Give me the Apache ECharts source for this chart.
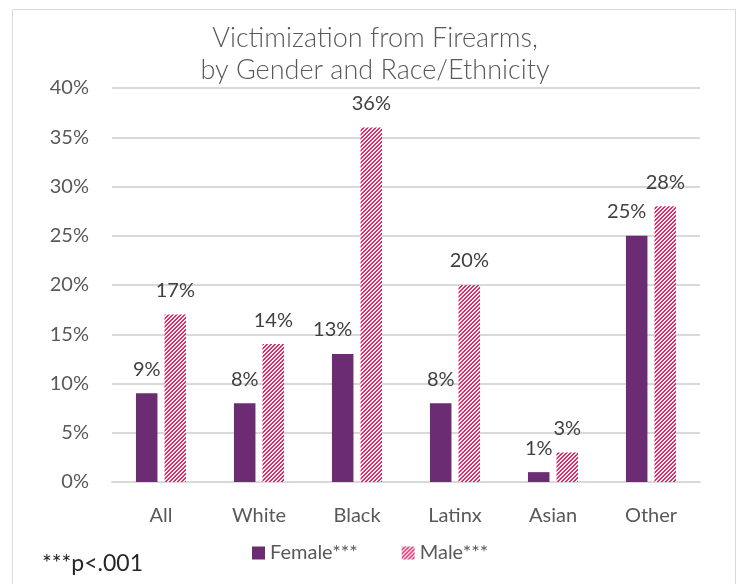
<!DOCTYPE html>
<html>
<head>
<meta charset="utf-8">
<script src="https://cdn.jsdelivr.net/npm/echarts@6/dist/echarts.min.js"></script>
<style>
  html, body { margin: 0; padding: 0; background: #ffffff; }
  #chart { width: 738px; height: 584px; }
</style>
</head>
<body>
<div id="chart"></div>
<script>
// Share of respondents victimized by firearms, by group
const categories = ['All', 'White', 'Black', 'Latinx', 'Asian', 'Other'];
const femaleValues = [9, 8, 13, 8, 1, 25];
const maleValues = [17, 14, 36, 20, 3, 28];
const yTicks = { min: 0, max: 40, step: 5 };

const FONT = 'Lato, "Open Sans", sans-serif';
const PURPLE = '#6B2C74';

// Upward diagonal hatch: pink with white stripes
function makeHatch() {
  const c = document.createElement('canvas');
  c.width = 8; c.height = 8;
  const ctx = c.getContext('2d');
  const img = ctx.createImageData(8, 8);
  const pink = [0xD3, 0x30, 0x6F];
  for (let y = 0; y < 8; y++) {
    for (let x = 0; x < 8; x++) {
      const k = (x + y) % 4;
      const i = (y * 8 + x) * 4;
      // weight of white in this pixel
      const w = k === 0 ? 1 : (k === 1 ? 0.8 : 0);
      for (let ch = 0; ch < 3; ch++) {
        img.data[i + ch] = Math.round(pink[ch] * (1 - w) + 255 * w);
      }
      img.data[i + 3] = 255;
    }
  }
  ctx.putImageData(img, 0, 0);
  return c;
}
const hatch = { image: makeHatch(), repeat: 'repeat' };

const labelBase = {
  show: true,
  position: 'top',
  distance: 14,
  color: '#404040',
  fontFamily: FONT,
  fontSize: 20,
  formatter: p => p.value + '%'
};

const chart = echarts.init(document.getElementById('chart'), null, { renderer: 'canvas' });
chart.setOption({
  animation: false,
  backgroundColor: '#ffffff',
  graphic: [
    {
      type: 'rect',
      shape: { x: 12.5, y: 9.5, width: 723, height: 590 },
      style: { fill: 'none', stroke: '#d9d9d9', lineWidth: 1 },
      silent: true
    },
    {
      type: 'text',
      left: 42,
      top: 552,
      style: { text: '***p<.001', fill: '#262626', font: '23px ' + FONT }
    }
  ],
  title: {
    text: 'Victimization from Firearms,\nby Gender and Race/Ethnicity',
    left: 370,
    top: 17,
    textAlign: 'center',
    textStyle: {
      fontFamily: FONT,
      fontWeight: 300,
      fontSize: 27,
      lineHeight: 32,
      color: '#595959'
    }
  },
  legend: {
    top: 538,
    left: 247,
    itemWidth: 13,
    itemHeight: 13,
    itemGap: 44,
    textStyle: { fontFamily: FONT, fontSize: 20, color: '#595959' },
    data: [
      { name: 'Female***', icon: 'rect' },
      { name: 'Male***', icon: 'rect' }
    ]
  },
  grid: { left: 112, right: 38, top: 88, bottom: 102, containLabel: false },
  xAxis: {
    type: 'category',
    data: categories,
    axisLine: { lineStyle: { color: '#d9d9d9', width: 2 } },
    axisTick: { show: false },
    axisLabel: { color: '#595959', fontFamily: FONT, fontSize: 20, margin: 24 }
  },
  yAxis: {
    type: 'value',
    min: yTicks.min,
    max: yTicks.max,
    interval: yTicks.step,
    axisLine: { show: false },
    axisTick: { show: false },
    splitLine: { lineStyle: { color: '#d9d9d9', width: 2 } },
    axisLabel: {
      color: '#595959', fontFamily: FONT, fontSize: 20, margin: 23,
      formatter: '{value}%'
    }
  },
  series: [
    {
      name: 'Female***',
      type: 'bar',
      barWidth: 21.5,
      barGap: '33%',
      itemStyle: { color: PURPLE },
      label: labelBase,
      data: femaleValues.map(v => ({
        value: v,
        label: v >= 10 ? { offset: [-10, 0] } : {}
      }))
    },
    {
      name: 'Male***',
      type: 'bar',
      barWidth: 21.5,
      barGap: '33%',
      itemStyle: { color: hatch },
      label: labelBase,
      data: maleValues
    }
  ]
});
</script>
</body>
</html>
